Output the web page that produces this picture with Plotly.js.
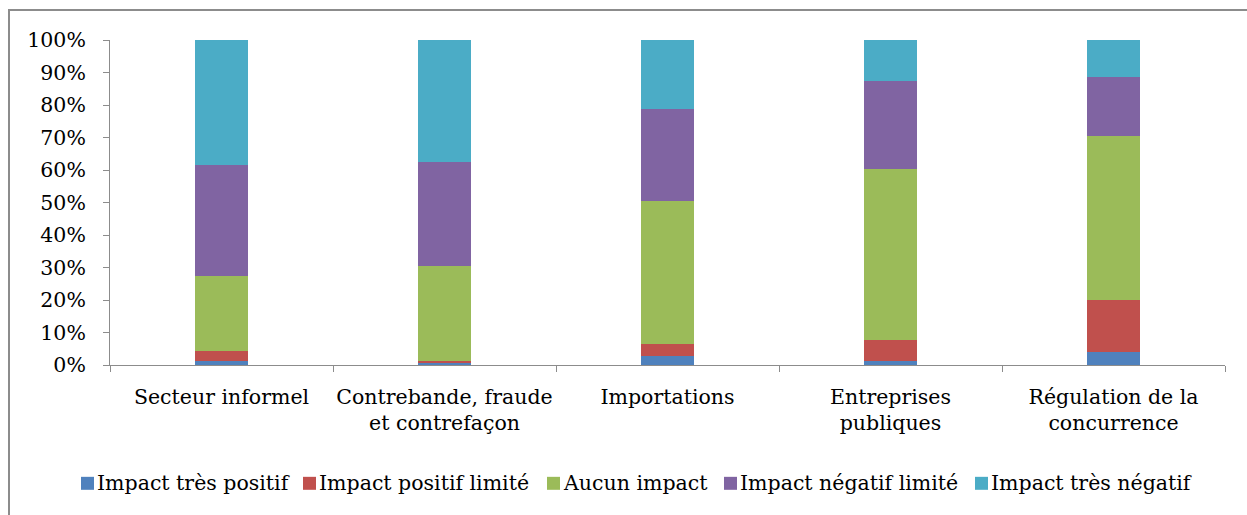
<!DOCTYPE html>
<html>
<head>
<meta charset="utf-8">
<script src="https://cdn.plot.ly/plotly-3.0.1.min.js"></script>
<style>
  html, body { margin: 0; padding: 0; background: #ffffff; }
  #wrap { position: relative; width: 1247px; height: 515px; overflow: hidden; }
  #frame { position: absolute; left: 8px; top: 9px; width: 1260px; height: 530px;
           border-left: 2px solid #8c8c8c; border-top: 2px solid #8c8c8c; pointer-events: none; }
  #chart { position: absolute; left: 0; top: 0; width: 1247px; height: 515px; }
</style>
</head>
<body>
<div id="wrap">
  <div id="chart"></div>
  <div id="frame"></div>
</div>
<script>
// Domaines évalués
const categories = [
  "Secteur informel",
  "Contrebande, fraude<br>et contrefaçon",
  "Importations",
  "Entreprises<br>publiques",
  "Régulation de la<br>concurrence"
];

// Répartition des réponses (% par domaine)
const impactTresPositif   = [1.3, 0.7, 2.9, 1.3, 4.1];
const impactPositifLimite = [3.1, 0.4, 3.6, 6.4, 15.8];
const aucunImpact         = [22.9, 29.5, 44.1, 52.5, 50.5];
const impactNegatifLimite = [34.1, 32.0, 28.2, 27.3, 18.2];
const impactTresNegatif   = [38.6, 37.4, 21.2, 12.5, 11.4];

const seriesNames = [
  "Impact très positif",
  "Impact positif limité",
  "Aucun impact",
  "Impact négatif limité",
  "Impact très négatif"
];
const seriesValues = [impactTresPositif, impactPositifLimite, aucunImpact, impactNegatifLimite, impactTresNegatif];
const seriesColors = ["#4F81BD", "#C0504D", "#9BBB59", "#8064A2", "#4BACC6"];

const yTickValues = [0, 10, 20, 30, 40, 50, 60, 70, 80, 90, 100];

const FONT = "'DejaVu Serif', serif";
const W = 1247, H = 515;
const M = { l: 110, r: 22, t: 40, b: 149.5 };

// pixel -> paper helpers for the hand-placed legend row
const plotW = W - M.l - M.r, plotH = H - M.t - M.b;
const px2paperX = px => (px - M.l) / plotW;
const px2paperY = py => (H - M.b - py) / plotH;

const traces = seriesNames.map((name, i) => ({
  type: "bar",
  name: name,
  x: categories,
  y: seriesValues[i],
  marker: { color: seriesColors[i], line: { width: 0 } },
  width: 0.24,
  showlegend: false,
  hoverinfo: "name+y"
}));

// Legend row: swatch left edges (px) along the bottom of the frame
const legendSwatchX = [81, 303, 547, 724, 975];
const legendY = 484;
const swatch = 13;

const shapes = seriesNames.map((name, i) => ({
  type: "rect",
  xref: "paper", yref: "paper",
  x0: px2paperX(legendSwatchX[i]), x1: px2paperX(legendSwatchX[i] + swatch),
  y0: px2paperY(legendY + swatch / 2), y1: px2paperY(legendY - swatch / 2),
  fillcolor: seriesColors[i],
  line: { width: 0 }
}));

const annotations = seriesNames.map((name, i) => ({
  xref: "paper", yref: "paper",
  x: px2paperX(legendSwatchX[i] + swatch + 3),
  y: px2paperY(legendY),
  xanchor: "left", yanchor: "middle",
  text: name,
  showarrow: false,
  borderpad: 0, borderwidth: 0,
  font: { family: FONT, size: 20.5, color: "#000000" }
}));

const layout = {
  width: W,
  height: H,
  barmode: "stack",
  paper_bgcolor: "rgba(0,0,0,0)",
  plot_bgcolor: "#ffffff",
  margin: M,
  font: { family: FONT, size: 20.5, color: "#000000" },
  showlegend: false,
  shapes: shapes,
  annotations: annotations,
  xaxis: {
    type: "category",
    automargin: false,
    showgrid: false,
    showline: true,
    linecolor: "#8c8c8c",
    linewidth: 1,
    ticks: "outside",
    tickson: "boundaries",
    ticklen: 6,
    tickcolor: "#8c8c8c",
    tickangle: 0,
    ticklabelstandoff: 13,
    tickfont: { family: FONT, size: 20.5, color: "#000000" },
    zeroline: false
  },
  yaxis: {
    range: [0, 100],
    automargin: false,
    tickvals: yTickValues,
    ticktext: yTickValues.map(v => v + "%"),
    showgrid: false,
    showline: true,
    linecolor: "#8c8c8c",
    linewidth: 1,
    ticks: "outside",
    ticklen: 6,
    tickcolor: "#8c8c8c",
    ticklabelstandoff: 13,
    tickfont: { family: FONT, size: 20.5, color: "#000000" },
    zeroline: false
  }
};

Plotly.newPlot("chart", traces, layout, { displayModeBar: false, staticPlot: true });
</script>
</body>
</html>
